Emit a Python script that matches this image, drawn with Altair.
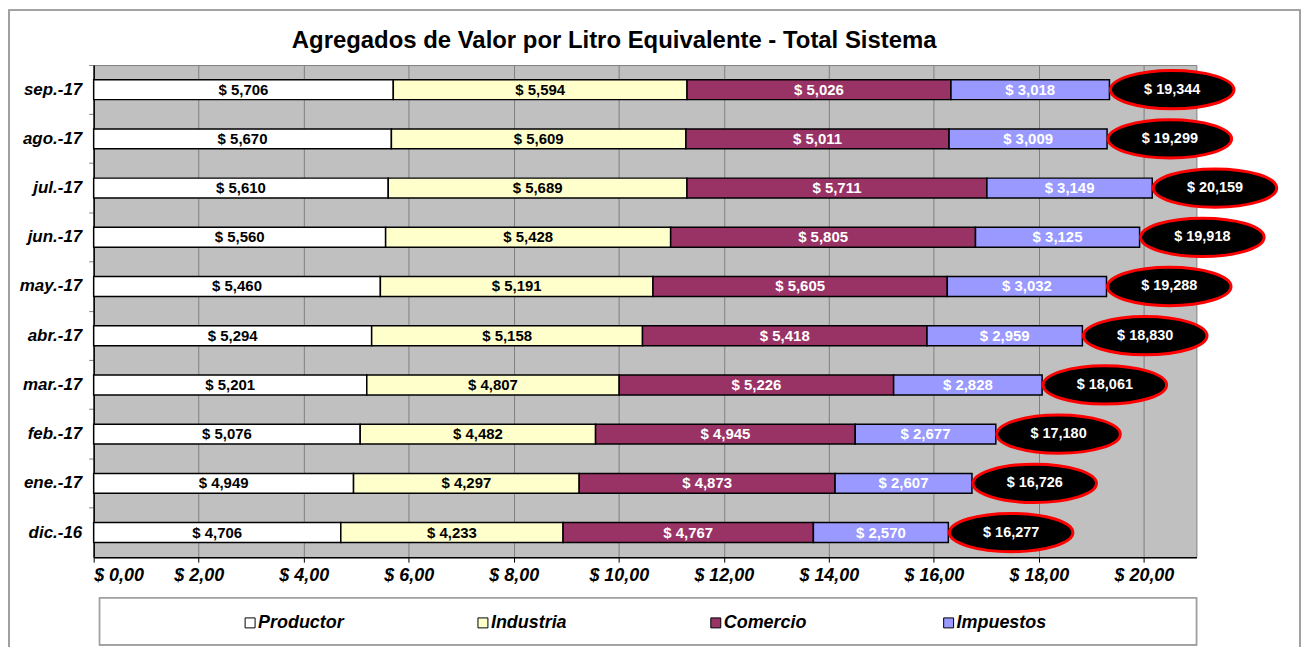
import altair as alt
import pandas as pd

meses = ['sep.-17', 'ago.-17', 'jul.-17', 'jun.-17', 'may.-17',
         'abr.-17', 'mar.-17', 'feb.-17', 'ene.-17', 'dic.-16']
categorias = ['Productor', 'Industria', 'Comercio', 'Impuestos']
productor = [5.706, 5.670, 5.610, 5.560, 5.460, 5.294, 5.201, 5.076, 4.949, 4.706]
industria = [5.594, 5.609, 5.689, 5.428, 5.191, 5.158, 4.807, 4.482, 4.297, 4.233]
comercio = [5.026, 5.011, 5.711, 5.805, 5.605, 5.418, 5.226, 4.945, 4.873, 4.767]
impuestos = [3.018, 3.009, 3.149, 3.125, 3.032, 2.959, 2.828, 2.677, 2.607, 2.570]
totales = [19.344, 19.299, 20.159, 19.918, 19.288, 18.830, 18.061, 17.180, 16.726, 16.277]
colores = ['#FFFFFF', '#FFFFCC', '#993366', '#9999FF']
x_ticks = [0, 2, 4, 6, 8, 10, 12, 14, 16, 18, 20]

FONT = 'Liberation Sans'


def fmt(v):
    return '$ ' + f'{v:.3f}'.replace('.', ',')


rows = []
for serie_i, (cat, vals) in enumerate(zip(categorias, [productor, industria, comercio, impuestos])):
    for mes, v in zip(meses, vals):
        rows.append({'mes': mes, 'cat': cat, 'idx': serie_i, 'valor': v, 'label': fmt(v)})
df = pd.DataFrame(rows)

df_tot = pd.DataFrame({'mes': meses, 'total': totales, 'label': [fmt(t) for t in totales]})

y_enc = alt.Y('mes:N', sort=meses, title=None,
              scale=alt.Scale(paddingInner=0, paddingOuter=0),
              axis=alt.Axis(labelFont=FONT, labelFontSize=17, labelFontWeight='bold',
                            labelFontStyle='italic', labelColor='black', labelPadding=7,
                            bandPosition=0, tickColor='#808080', tickSize=5,
                            domainColor='black', domainWidth=1.5, grid=False))

x_scale = alt.Scale(domain=[0, 21], nice=False, zero=True)
x_axis = alt.Axis(values=x_ticks, labelExpr="'$ ' + replace(format(datum.value, '.2f'), '.', ',')",
                  labelFont=FONT, labelFontSize=18, labelFontWeight='bold', labelFontStyle='italic',
                  labelColor='black', labelPadding=4, tickColor='black', tickSize=5,
                  domainColor='black', domainWidth=1.5, gridColor='#808080', gridWidth=1,
                  gridOpacity=1, title=None)

base = alt.Chart(df).transform_stack(
    stack='valor', groupby=['mes'], as_=['x0', 'x1'], sort=[alt.SortField('idx', order='ascending')]
).transform_calculate(mid='(datum.x0 + datum.x1) / 2')

bars = base.mark_bar(size=20, stroke='black', strokeWidth=1.5).encode(
    x=alt.X('x0:Q', scale=x_scale, axis=x_axis),
    x2='x1:Q',
    y=y_enc,
    color=alt.Color('cat:N', scale=alt.Scale(domain=categorias, range=colores), legend=None),
)

texts = base.mark_text(font=FONT, fontSize=15, fontWeight='bold', baseline='middle').encode(
    x=alt.X('mid:Q', scale=x_scale),
    y=alt.Y('mes:N', sort=meses),
    text='label:N',
    color=alt.condition('datum.idx >= 2', alt.value('white'), alt.value('black')),
)

ellipse_path = 'M -1 0 A 1 0.31 0 1 0 1 0 A 1 0.31 0 1 0 -1 0 Z'
ellipses = alt.Chart(df_tot).mark_point(
    shape=ellipse_path, size=15376, filled=True, fill='black', stroke='#FF0000',
    strokeWidth=3, opacity=1, xOffset=63
).encode(x=alt.X('total:Q', scale=x_scale), y=alt.Y('mes:N', sort=meses))

tot_text = alt.Chart(df_tot).mark_text(
    font=FONT, fontSize=14.5, fontWeight='bold', color='white', xOffset=63, baseline='middle'
).encode(x=alt.X('total:Q', scale=x_scale), y=alt.Y('mes:N', sort=meses), text='label:N')

main = alt.layer(bars, texts, ellipses, tot_text).properties(
    width=1107, height=494,
    view=alt.ViewBackground(fill='#C0C0C0', stroke='#808080'),
    title=alt.TitleParams('Agregados de Valor por Litro Equivalente - Total Sistema',
                          font=FONT, fontSize=24, fontWeight='bold', color='black',
                          anchor='middle', dx=-31, offset=12),
)

df_leg = pd.DataFrame({'cat': categorias})
leg_x = alt.X('cat:N', sort=categorias, axis=None,
              scale=alt.Scale(type='point', domain=categorias, padding=0.868, align=0.387))
leg_sym = alt.Chart(df_leg).mark_point(shape='square', size=100, filled=True, stroke='black',
                                       strokeWidth=1, opacity=1).encode(
    x=leg_x, y=alt.value(25),
    color=alt.Color('cat:N', scale=alt.Scale(domain=categorias, range=colores), legend=None))
leg_txt = alt.Chart(df_leg).mark_text(font=FONT, fontSize=18, fontWeight='bold', fontStyle='italic',
                                      align='left', baseline='middle', dx=8, color='black').encode(
    x=leg_x, y=alt.value(25), text='cat:N')
# decorative outer frame of the whole chart and legend box (drawn from the legend panel)
frame = alt.Chart(df_leg).mark_rect(fill=None, stroke='#A0A0A0', strokeWidth=1.5).encode(
    x=alt.value(-85), x2=alt.value(1211), y=alt.value(-590), y2=alt.value(70))
leg_box = alt.Chart(df_leg).mark_rect(fill='white', stroke='#A0A0A0', strokeWidth=1.5).encode(
    x=alt.value(6), x2=alt.value(1107), y=alt.value(0), y2=alt.value(47))
legend = alt.layer(frame, leg_box, leg_sym, leg_txt).properties(
    width=1107, height=47, view=alt.ViewBackground(fill=None, stroke=None))

chart = alt.vconcat(main, legend, spacing=41, bounds='flush').properties(
    padding={'left': 0, 'top': 0, 'right': 0, 'bottom': 0}
).configure(background='white')

chart.save('out.html', embed_options={'renderer': 'svg', 'actions': False})
